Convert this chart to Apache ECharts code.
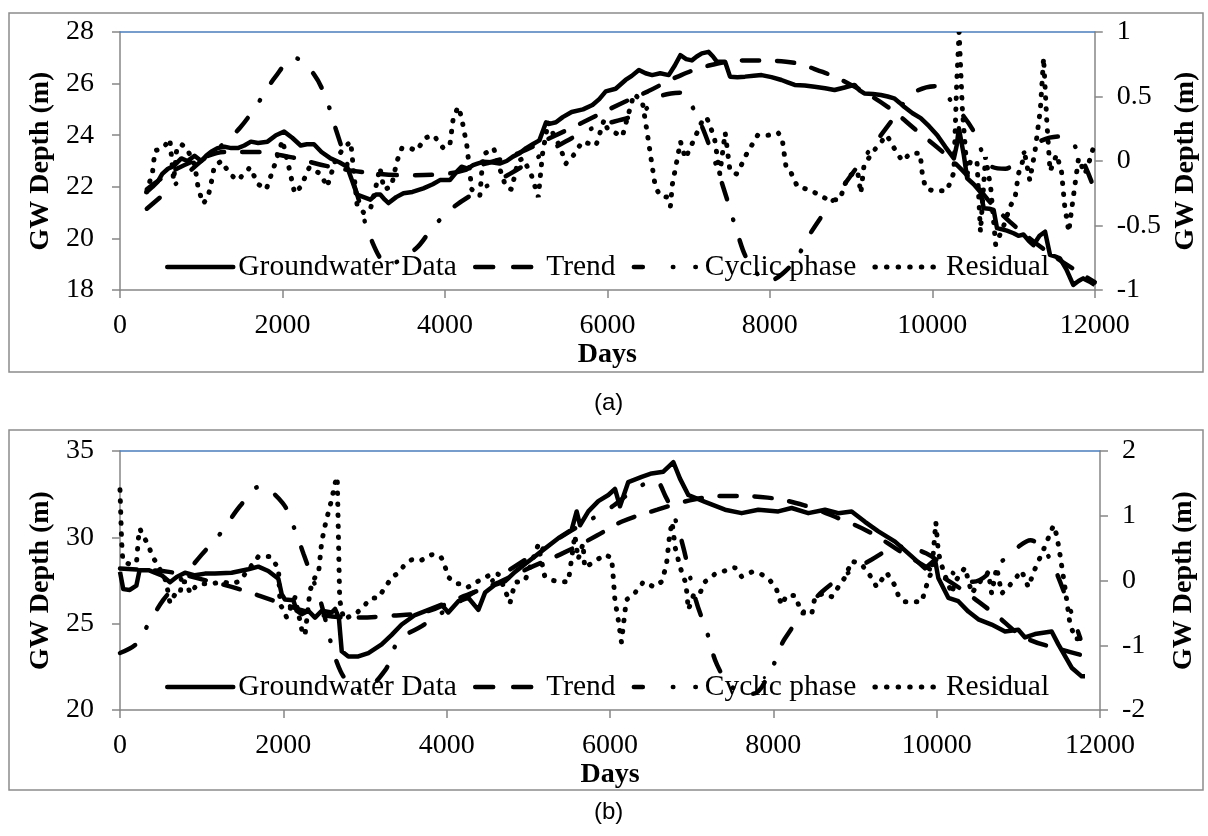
<!DOCTYPE html>
<html>
<head>
<meta charset="utf-8">
<script src="https://cdn.jsdelivr.net/npm/echarts@6/dist/echarts.min.js"></script>
<style>html,body{margin:0;padding:0;background:#fff}#c{width:1208px;height:836px}</style>
</head>
<body>
<div id="c"></div>
<script>
// ---------- Data (days, value) ----------
const xTicks = [0, 2000, 4000, 6000, 8000, 10000, 12000];
const seriesNames = ['Groundwater Data', 'Trend', 'Cyclic phase', 'Residual'];

// Panel (a)
const gwA = [[327,21.8],[400,22.0],[465,22.2],[520,22.5],[590,22.7],[660,22.8],[755,23.1],[830,23.0],[918,23.2],[1000,23.0],[1060,23.2],[1122,23.36],[1200,23.5],[1286,23.55],[1370,23.5],[1450,23.5],[1530,23.6],[1612,23.75],[1700,23.7],[1816,23.75],[1920,24.0],[2020,24.14],[2120,23.9],[2224,23.6],[2300,23.65],[2388,23.65],[2480,23.35],[2592,23.1],[2700,22.95],[2796,22.78],[2850,22.3],[2918,21.7],[3000,21.6],[3082,21.5],[3150,21.7],[3204,21.7],[3260,21.5],[3306,21.37],[3400,21.6],[3490,21.75],[3600,21.8],[3735,21.94],[3850,22.1],[3939,22.26],[4061,22.26],[4150,22.6],[4204,22.78],[4280,22.7],[4347,22.84],[4400,22.9],[4469,22.97],[4573,22.95],[4673,22.9],[4760,23.0],[4837,23.17],[4920,23.3],[5000,23.5],[5080,23.65],[5163,23.8],[5210,24.2],[5245,24.5],[5300,24.45],[5367,24.5],[5450,24.7],[5560,24.9],[5700,25.0],[5816,25.17],[5900,25.4],[5980,25.7],[6102,25.8],[6224,26.14],[6300,26.3],[6388,26.53],[6470,26.4],[6551,26.33],[6650,26.4],[6755,26.33],[6830,26.7],[6898,27.1],[6970,26.95],[7040,26.9],[7100,27.05],[7163,27.17],[7245,27.23],[7300,27.05],[7347,26.85],[7449,26.85],[7510,26.27],[7600,26.25],[7694,26.27],[7800,26.3],[7898,26.33],[8020,26.25],[8143,26.14],[8220,26.05],[8306,25.95],[8430,25.93],[8551,25.88],[8680,25.82],[8796,25.75],[8920,25.85],[9041,25.95],[9100,25.75],[9163,25.62],[9270,25.6],[9367,25.56],[9450,25.5],[9530,25.43],[9600,25.25],[9653,25.1],[9757,24.85],[9857,24.66],[9960,24.35],[10061,24.0],[10160,23.55],[10265,23.1],[10300,23.6],[10327,24.27],[10388,23.23],[10429,22.33],[10510,22.1],[10592,21.8],[10633,21.17],[10700,21.15],[10755,21.1],[10796,20.4],[10860,20.35],[10918,20.3],[11000,20.2],[11060,20.1],[11122,20.15],[11190,19.9],[11245,19.74],[11320,20.1],[11388,20.26],[11449,19.36],[11510,19.3],[11571,19.23],[11650,18.8],[11735,18.2],[11800,18.35],[11857,18.45],[11950,18.3],[12000,18.2]];
const trendA = [[330,21.9],[500,22.3],[700,22.7],[1000,23.1],[1300,23.35],[1650,23.35],[2100,23.15],[2550,22.8],[3000,22.57],[3500,22.45],[4000,22.5],[4500,22.9],[4900,23.3],[5300,23.9],[5700,24.5],[6150,25.2],[6500,25.7],[6850,26.25],[7250,26.7],[7750,26.9],[8200,26.85],[8650,26.45],[9000,25.95],[9450,25.1],[9800,24.2],[10200,23.15],[10500,22.2],[10800,21.1],[11200,20.0],[11550,19.2],[12000,18.3]];
const cyclicA = [[330,-0.37],[700,-0.17],[1000,0.0],[1250,0.12],[1480,0.26],[1690,0.44],[1910,0.65],[2143,0.80],[2390,0.67],[2550,0.46],[2660,0.24],[2900,-0.22],[3100,-0.62],[3306,-0.80],[3640,-0.68],[3845,-0.52],[4100,-0.36],[4500,-0.2],[4800,-0.1],[5200,0.05],[5800,0.25],[6400,0.37],[6650,0.5],[6900,0.53],[7100,0.35],[7260,0.11],[7490,-0.33],[7600,-0.56],[7730,-0.77],[7980,-0.93],[8290,-0.79],[8460,-0.6],[8670,-0.4],[9070,-0.05],[9510,0.32],[9750,0.52],[10040,0.58],[10250,0.45],[10500,0.24],[10700,-0.03],[10900,-0.06],[11100,0.05],[11350,0.16],[11570,0.19],[11750,0.12],[11960,-0.16]];
const residA = [[327,-0.24],[400,-0.09],[430,0.08],[530,0.1],[614,0.17],[660,-0.15],[700,0.1],[755,0.13],[820,0.1],[920,-0.03],[960,-0.2],[1020,-0.33],[1080,-0.29],[1140,-0.12],[1160,-0.04],[1250,0.0],[1350,-0.1],[1450,-0.15],[1600,-0.05],[1700,-0.18],[1800,-0.22],[1920,0.0],[2000,0.16],[2080,-0.05],[2150,-0.25],[2225,-0.2],[2330,-0.05],[2470,-0.1],[2550,-0.2],[2650,0.0],[2750,0.1],[2840,0.15],[2880,-0.1],[2920,-0.35],[3000,-0.4],[3080,-0.38],[3150,-0.2],[3200,-0.05],[3250,-0.22],[3340,-0.2],[3410,0.0],[3470,0.1],[3570,0.1],[3650,0.08],[3760,0.18],[3860,0.2],[3980,0.1],[4060,0.12],[4100,0.32],[4160,0.42],[4200,0.35],[4270,0.12],[4330,-0.22],[4430,-0.27],[4470,0.05],[4600,0.1],[4670,-0.05],[4750,-0.2],[4820,-0.22],[4900,0.0],[4960,0.02],[5060,-0.1],[5150,-0.28],[5200,0.05],[5270,0.3],[5340,0.2],[5410,0.12],[5490,-0.02],[5590,0.05],[5690,0.15],[5860,0.12],[5960,0.32],[6000,0.25],[6184,0.19],[6327,0.52],[6430,0.46],[6490,0.22],[6530,0.05],[6590,-0.2],[6650,-0.27],[6735,-0.28],[6776,-0.35],[6800,-0.18],[6840,-0.05],[6900,0.15],[6960,0.02],[7040,0.13],[7160,0.3],[7220,0.34],[7260,0.28],[7320,0.17],[7384,-0.1],[7450,0.22],[7510,-0.08],[7590,-0.1],[7650,-0.03],[7710,0.05],[7850,0.2],[7980,0.2],[8100,0.22],[8150,0.18],[8200,-0.05],[8260,-0.09],[8340,-0.2],[8470,-0.22],[8570,-0.25],[8715,-0.3],[8860,-0.3],[8960,-0.12],[9080,-0.08],[9120,-0.25],[9160,-0.03],[9280,0.08],[9440,0.2],[9530,0.1],[9630,0.0],[9730,0.06],[9850,0.06],[9880,-0.12],[9920,-0.21],[10000,-0.23],[10180,-0.23],[10265,-0.09],[10300,0.6],[10330,1.0],[10370,0.4],[10430,-0.1],[10470,0.0],[10550,0.0],[10593,-0.55],[10655,0.03],[10718,-0.2],[10780,-0.65],[10880,-0.5],[10960,-0.35],[11020,-0.28],[11060,-0.1],[11140,0.05],[11200,-0.15],[11265,0.08],[11330,0.4],[11370,0.8],[11410,0.3],[11450,-0.08],[11530,0.05],[11590,-0.08],[11630,-0.35],[11680,-0.55],[11710,-0.4],[11800,0.02],[11880,-0.1],[11960,0.05],[12000,0.15]];

// Panel (b)
const gwB = [[0,28.0],[40,27.0],[120,26.95],[200,27.2],[240,28.1],[350,28.1],[510,27.8],[612,27.4],[694,27.7],[796,27.95],[918,27.8],[1040,27.9],[1163,27.9],[1367,27.95],[1571,28.15],[1694,28.3],[1816,28.05],[1939,27.6],[1980,26.7],[2020,26.4],[2123,26.35],[2163,25.75],[2225,25.55],[2306,25.75],[2388,25.35],[2470,25.75],[2592,25.65],[2633,25.85],[2680,25.35],[2715,23.4],[2796,23.1],[2918,23.1],[3041,23.3],[3204,23.8],[3327,24.35],[3449,24.95],[3612,25.5],[3776,25.8],[3939,26.1],[4020,25.65],[4143,26.3],[4265,26.5],[4388,25.8],[4470,26.8],[4592,27.25],[4714,27.45],[4837,28.0],[5000,28.6],[5163,29.2],[5367,29.95],[5531,30.45],[5592,31.5],[5633,30.7],[5735,31.5],[5857,32.1],[5980,32.45],[6061,32.8],[6122,31.8],[6224,33.2],[6388,33.5],[6510,33.7],[6653,33.8],[6776,34.35],[6857,33.4],[6959,32.45],[7163,32.05],[7408,31.6],[7612,31.4],[7816,31.6],[8061,31.5],[8224,31.7],[8428,31.4],[8633,31.6],[8796,31.4],[8959,31.5],[9122,30.9],[9286,30.35],[9490,29.75],[9694,28.9],[9857,28.2],[9980,28.7],[10020,27.65],[10143,26.5],[10265,26.3],[10388,25.7],[10510,25.25],[10673,24.95],[10837,24.55],[11000,24.65],[11082,24.2],[11204,24.4],[11408,24.55],[11490,23.8],[11653,22.45],[11775,21.95],[11816,21.95]];
const trendB = [[0,28.2],[300,28.1],[600,28.0],[1060,27.5],[1460,27.0],[1900,26.3],[2370,25.6],[2850,25.35],[3300,25.45],[3750,25.7],[4160,26.5],[4640,27.4],[5000,28.2],[5430,29.1],[5840,30.1],[6140,30.9],[6580,31.6],[7040,32.2],[7460,32.4],[7930,32.3],[8380,31.85],[8800,31.1],[9180,30.3],[9550,29.2],[9900,28.2],[10300,27.0],[10700,25.6],[11080,24.2],[11530,23.5],[11760,23.2]];
const cyclicB = [[0,-1.12],[200,-0.98],[340,-0.69],[530,-0.3],[750,0.02],[1000,0.4],[1245,0.75],[1470,1.15],[1714,1.45],[1990,1.2],[2143,0.78],[2250,0.4],[2450,-0.3],[2700,-1.4],[2960,-1.7],[3250,-1.38],[3410,-0.93],[3700,-0.7],[4000,-0.45],[4500,-0.05],[5000,0.35],[5500,0.75],[6000,1.12],[6300,1.4],[6550,1.55],[6680,1.3],[6790,0.98],[6900,0.5],[7050,-0.3],[7188,-0.8],[7310,-1.3],[7500,-1.65],[7750,-1.75],[7965,-1.4],[8140,-0.9],[8600,-0.17],[9200,0.32],[9550,0.52],[9870,0.42],[10445,-0.02],[10800,0.3],[11000,0.52],[11150,0.62],[11300,0.5],[11474,0.1],[11760,-0.9]];
const residB = [[0,1.4],[10,1.0],[20,0.6],[35,0.3],[120,0.25],[203,0.29],[225,0.65],[245,0.8],[265,0.73],[347,0.55],[390,0.39],[450,0.26],[550,0.03],[570,-0.05],[612,-0.35],[670,-0.22],[735,-0.22],[755,-0.02],[816,-0.02],[857,-0.2],[940,-0.07],[1020,-0.05],[1120,-0.05],[1265,-0.02],[1347,-0.05],[1450,-0.02],[1550,0.13],[1694,0.37],[1735,0.37],[1837,0.37],[1900,0.26],[1940,0.2],[1960,-0.37],[2000,-0.45],[2040,-0.57],[2080,-0.45],[2143,-0.26],[2225,-0.75],[2265,-0.85],[2327,-0.15],[2388,0.05],[2430,0.1],[2470,0.6],[2520,0.9],[2592,1.25],[2633,1.5],[2660,1.6],[2690,-0.3],[2740,-0.6],[2900,-0.5],[2980,-0.4],[3080,-0.27],[3160,-0.27],[3250,-0.1],[3330,0.05],[3410,0.12],[3490,0.25],[3570,0.32],[3670,0.3],[3820,0.4],[3920,0.38],[3960,0.3],[4020,0.05],[4120,-0.05],[4200,-0.05],[4265,-0.1],[4400,0.0],[4550,0.1],[4630,0.1],[4700,-0.1],[4775,-0.35],[4837,-0.03],[4960,0.0],[5120,0.55],[5200,0.07],[5300,0.0],[5430,-0.02],[5490,-0.02],[5570,0.7],[5610,0.33],[5670,0.57],[5690,0.2],[5817,0.3],[5940,0.4],[6020,0.35],[6040,0.05],[6060,-0.3],[6100,-0.6],[6140,-0.95],[6200,-0.3],[6300,-0.2],[6410,-0.02],[6540,-0.1],[6630,-0.02],[6690,0.23],[6730,0.7],[6760,0.9],[6800,0.5],[6860,0.2],[6930,-0.05],[6960,-0.45],[7030,-0.2],[7100,-0.2],[7163,-0.02],[7286,0.1],[7408,0.15],[7530,0.2],[7612,0.06],[7735,0.13],[7850,0.1],[7960,0.0],[8040,-0.14],[8100,-0.38],[8163,-0.23],[8265,-0.23],[8347,-0.5],[8470,-0.52],[8510,-0.25],[8612,-0.2],[8715,-0.25],[8796,-0.1],[8878,0.05],[8960,0.3],[9080,0.25],[9200,0.05],[9265,-0.1],[9388,0.12],[9490,-0.08],[9530,-0.23],[9612,-0.33],[9816,-0.33],[9878,-0.07],[9940,0.15],[9990,0.9],[10020,0.45],[10040,0.33],[10082,0.15],[10185,-0.2],[10225,-0.02],[10347,0.2],[10430,-0.2],[10510,-0.05],[10633,0.13],[10673,-0.2],[10735,0.2],[10796,-0.2],[10878,-0.1],[11040,0.15],[11122,-0.1],[11204,0.18],[11300,0.45],[11430,0.85],[11470,0.7],[11510,0.4],[11570,-0.1],[11630,-0.65],[11694,-0.9],[11735,-0.9]];

// ---------- Styling ----------
const SERIF = '"Liberation Serif", "Times New Roman", serif';
const SANS = '"Liberation Sans", Arial, sans-serif';
const AXIS_GRAY = '#868686';
const TOP_BLUE = '#4a7ebb';
const LW = 4.5;

const lineStyles = [
  { color: '#000', width: LW, type: 'solid', join: 'round' },
  { color: '#000', width: LW, type: [17, 18], cap: 'round' },
  { color: '#000', width: LW, type: [17, 21, 0.5, 21], cap: 'round' },
  { color: '#000', width: 5, type: [0.5, 10.5], cap: 'round' }
];
const legendLineStyles = [
  { color: '#000', width: LW, type: 'solid', cap: 'round' },
  { color: '#000', width: LW, type: [18, 20], cap: 'round' },
  { color: '#000', width: LW, type: [9, 30, 0.5, 22, 0.5, 30], cap: 'round' },
  { color: '#000', width: 5, type: [0.5, 11.1], cap: 'round' }
];

function xAxisPair(gi) {
  return [
    { gridIndex: gi, type: 'value', min: 0, max: 12000, interval: 2000, position: 'bottom',
      name: 'Days', nameLocation: 'middle', nameGap: 48,
      nameTextStyle: { fontFamily: SERIF, fontWeight: 'bold', fontSize: 28, color: '#000' },
      axisLine: { show: true, onZero: false, lineStyle: { color: AXIS_GRAY, width: 1.5 } },
      axisTick: { show: true, length: 8, lineStyle: { color: AXIS_GRAY, width: 1.5 } },
      axisLabel: { margin: 22, fontFamily: SERIF, fontSize: 28, color: '#000', formatter: v => String(v) },
      splitLine: { show: false } },
    { gridIndex: gi, type: 'value', min: 0, max: 12000, interval: 2000, position: 'top',
      axisLine: { show: true, onZero: false, lineStyle: { color: TOP_BLUE, width: 1.5 } },
      axisTick: { show: false }, axisLabel: { show: false }, splitLine: { show: false } }
  ];
}
function yAxis(gi, pos, min, max, interval, gap, margin) {
  return { gridIndex: gi, type: 'value', min, max, interval, position: pos,
    name: 'GW Depth (m)', nameLocation: 'middle', nameGap: gap, nameRotate: 90,
    nameTextStyle: { fontFamily: SERIF, fontWeight: 'bold', fontSize: 28, color: '#000' },
    axisLine: { show: true, onZero: false, lineStyle: { color: AXIS_GRAY, width: 1.5 } },
    axisTick: { show: true, length: 8, lineStyle: { color: AXIS_GRAY, width: 1.5 } },
    axisLabel: { margin: margin, fontFamily: SERIF, fontSize: 28, color: '#000', formatter: v => String(v) },
    splitLine: { show: false } };
}
function panelSeries(xi, yl, yr, gw, tr, cy, re) {
  const data = [gw, tr, cy, re];
  const yIdx = [yl, yl, yr, yr];
  const smooth = [false, 0.4, 0.35, false];
  return seriesNames.map((n, i) => ({
    name: n, type: 'line', xAxisIndex: xi, yAxisIndex: yIdx[i], data: data[i], symbol: 'none',
    smooth: smooth[i], lineStyle: lineStyles[i]
  }));
}
function legend(top) {
  return { data: seriesNames.map((n, i) => ({ name: n, lineStyle: legendLineStyles[i] })),
    left: 165, top: top, orient: 'horizontal', itemWidth: 66, itemHeight: 14, itemGap: 16,
    padding: 0, selectedMode: false, itemStyle: { opacity: 0 },
    textStyle: { fontFamily: SERIF, fontSize: 29.5, color: '#000' } };
}

const chart = echarts.init(document.getElementById('c'), null, { renderer: 'canvas' });
chart.setOption({
  backgroundColor: '#fff',
  animation: false,
  color: ['#000'],
  title: [
    { text: '(a)', left: 594, top: 391, padding: 0, textStyle: { fontFamily: SANS, fontSize: 24, fontWeight: 'normal', color: '#000' } },
    { text: '(b)', left: 594, top: 800, padding: 0, textStyle: { fontFamily: SANS, fontSize: 24, fontWeight: 'normal', color: '#000' } }
  ],
  graphic: [
    { type: 'rect', shape: { x: 9, y: 13, width: 1194, height: 359 }, style: { fill: 'none', stroke: '#8c8c8c', lineWidth: 1.5 }, z: -1 },
    { type: 'rect', shape: { x: 9, y: 430, width: 1194, height: 360 }, style: { fill: 'none', stroke: '#8c8c8c', lineWidth: 1.5 }, z: -1 }
  ],
  grid: [
    { left: 120, top: 32, width: 980, height: 258 },
    { left: 120, top: 451, width: 980, height: 259 }
  ],
  legend: [legend(252), legend(672)],
  xAxis: [...xAxisPair(0), ...xAxisPair(1)],
  yAxis: [
    yAxis(0, 'left', 18, 28, 2, 52, 26),
    yAxis(0, 'right', -1, 1, 0.5, 70, 22),
    yAxis(1, 'left', 20, 35, 5, 52, 26),
    yAxis(1, 'right', -2, 2, 1, 70, 22)
  ],
  series: [
    ...panelSeries(0, 0, 1, gwA, trendA, cyclicA, residA),
    ...panelSeries(2, 2, 3, gwB, trendB, cyclicB, residB)
  ]
});
</script>
</body>
</html>
